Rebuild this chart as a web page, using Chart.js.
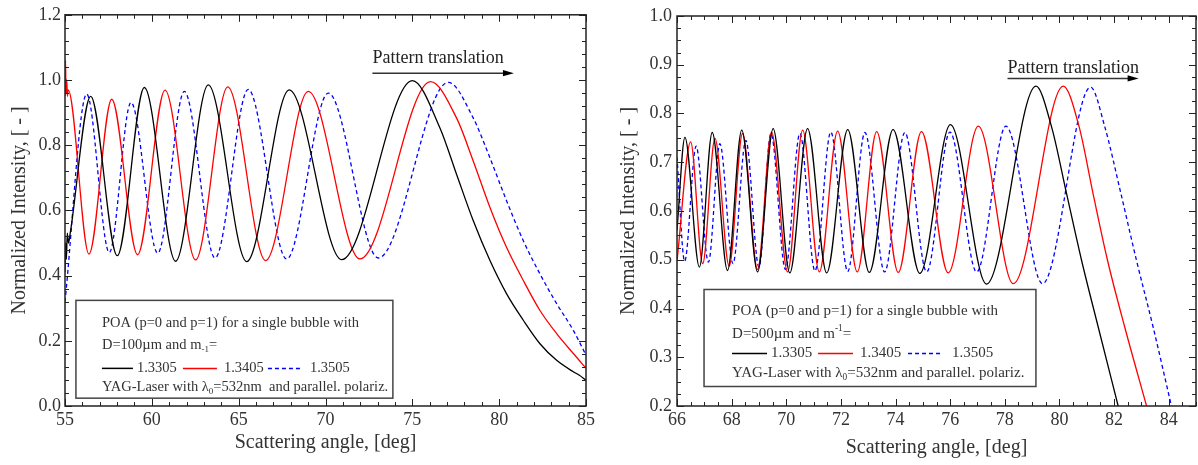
<!DOCTYPE html>
<html>
<head>
<meta charset="utf-8">
<script src="https://cdn.jsdelivr.net/npm/chart.js@4.4.1/dist/chart.umd.min.js"></script>
<style>
  html, body { margin: 0; padding: 0; background: #fff; }
  #wrap { position: relative; width: 1198px; height: 465px; }
  canvas { position: absolute; top: 0; }
  #left { left: 0; }
  #right { left: 600px; }
</style>
</head>
<body>
<div id="wrap">
  <canvas id="left" width="600" height="465"></canvas>
  <canvas id="right" width="598" height="465"></canvas>
</div>
<script>
// series names (refractive index m^-1)
const seriesLabels = ["1.3305", "1.3405", "1.3505"];

// ---- left panel: D = 100 um ----
const leftXTicks = [55, 60, 65, 70, 75, 80, 85];
const leftYTicks = [0.0, 0.2, 0.4, 0.6, 0.8, 1.0, 1.2];

const leftBlackX = [55.0, 55.04, 55.08, 55.13, 55.2, 55.3, 56.48, 58.01, 59.57, 61.37, 63.25, 65.46, 67.91, 70.93, 75.0, 76.59, 77.55, 78.51, 79.47, 80.43, 81.39, 82.35, 83.31, 84.27, 84.6, 85.0];
const leftBlackY = [0.41, 0.50, 0.45, 0.53, 0.50, 0.53, 0.950, 0.461, 0.977, 0.444, 0.985, 0.443, 0.970, 0.449, 0.998, 0.853, 0.710, 0.568, 0.446, 0.344, 0.263, 0.191, 0.140, 0.105, 0.095, 0.079];

const leftRedX = [55.0, 55.03, 55.06, 55.1, 55.14, 55.18, 56.38, 57.69, 59.18, 60.76, 62.52, 64.37, 66.55, 69.01, 71.98, 76.05, 77.55, 78.51, 79.47, 80.43, 81.39, 82.35, 83.31, 84.27, 85.0];
const leftRedY = [0.95, 1.06, 0.96, 1.00, 0.95, 0.97, 0.466, 0.941, 0.464, 0.969, 0.448, 0.979, 0.446, 0.965, 0.451, 0.995, 0.883, 0.751, 0.609, 0.486, 0.385, 0.293, 0.222, 0.161, 0.116];

const leftBlueX = [55.0, 56.25, 57.55, 58.80, 60.34, 61.87, 63.64, 65.55, 67.76, 70.16, 73.04, 77.07, 78.51, 79.47, 80.43, 81.39, 82.35, 83.31, 84.27, 85.0];
const leftBlueY = [0.32, 0.957, 0.471, 0.931, 0.469, 0.965, 0.454, 0.971, 0.451, 0.960, 0.454, 0.993, 0.883, 0.761, 0.629, 0.507, 0.405, 0.314, 0.232, 0.156];

// ---- right panel: D = 500 um ----
const rightXTicks = [66, 68, 70, 72, 74, 76, 78, 80, 82, 84];
const rightYTicks = [0.2, 0.3, 0.4, 0.5, 0.6, 0.7, 0.8, 0.9, 1.0];

const rightBlackX = [66.0, 66.29, 66.82, 67.29, 67.85, 68.37, 68.95, 69.52, 70.13, 70.78, 71.48, 72.25, 73.04, 73.91, 74.89, 76.01, 77.33, 79.14, 79.71, 80.26, 80.81, 81.42, 82.15];
const rightBlackY = [0.56, 0.751, 0.485, 0.761, 0.478, 0.766, 0.475, 0.769, 0.473, 0.769, 0.473, 0.767, 0.474, 0.767, 0.472, 0.777, 0.450, 0.856, 0.773, 0.636, 0.499, 0.362, 0.200];

const rightRedX = [66.0, 66.50, 66.94, 67.39, 67.91, 68.40, 68.95, 69.46, 70.05, 70.60, 71.21, 71.88, 72.60, 73.31, 74.10, 74.95, 75.93, 77.03, 78.31, 80.14, 80.72, 81.23, 81.76, 82.39, 83.19];
const rightRedY = [0.497, 0.742, 0.492, 0.749, 0.487, 0.759, 0.480, 0.762, 0.475, 0.766, 0.475, 0.764, 0.475, 0.763, 0.474, 0.763, 0.473, 0.774, 0.451, 0.856, 0.773, 0.636, 0.499, 0.362, 0.200];

const rightBlueX = [66.0, 66.28, 66.70, 67.15, 67.57, 68.05, 68.52, 69.0, 69.44, 69.97, 70.50, 71.05, 71.63, 72.25, 72.88, 73.60, 74.34, 75.14, 75.99, 76.97, 78.04, 79.38, 81.14, 81.66, 82.25, 82.82, 83.43, 84.10];
const rightBlueY = [0.71, 0.497, 0.733, 0.495, 0.738, 0.492, 0.745, 0.485, 0.759, 0.480, 0.759, 0.477, 0.762, 0.476, 0.761, 0.475, 0.761, 0.475, 0.762, 0.475, 0.774, 0.451, 0.854, 0.773, 0.636, 0.499, 0.362, 0.200];

const serif = "'Liberation Serif', 'DejaVu Serif', serif";
const textColor = "#333";
const colors = ["#000000", "#ff0000", "#0000ff"];
const dashes = [[], [], [4, 3]];

function pts(xs, ys) {
  return xs.map((x, i) => ({ x: x, y: ys[i] }));
}

// draw text with sub/superscript parts: [[text, "sub"|"sup"|undefined], ...]
function richText(ctx, parts, x, y, size) {
  let cx = x;
  parts.forEach(([t, k]) => {
    const s = k ? size * 0.62 : size;
    ctx.font = s + "px " + serif;
    const dy = k === "sub" ? size * 0.3 : k === "sup" ? -size * 0.4 : 0;
    ctx.fillText(t, cx, y + dy);
    cx += ctx.measureText(t).width;
  });
}

// frame, inward ticks on all sides, legend box and arrow note
const decor = {
  id: "decor",
  afterDatasetsDraw(chart, args, o) {
    const { ctx, chartArea: a, scales: { x, y } } = chart;
    ctx.save();
    ctx.strokeStyle = "#222";
    ctx.lineWidth = 1.5;
    ctx.strokeRect(a.left, a.top, a.width, a.height);

    ctx.lineWidth = 1;
    ctx.beginPath();
    const nx = Math.round((x.max - x.min) / o.xMinor);
    for (let i = 0; i <= nx; i++) {
      const v = x.min + i * o.xMinor;
      const len = o.xMajor.some(m => Math.abs(m - v) < 1e-6) ? 7 : 4;
      const p = Math.round(x.getPixelForValue(v)) + 0.5;
      ctx.moveTo(p, a.bottom); ctx.lineTo(p, a.bottom - len);
      ctx.moveTo(p, a.top); ctx.lineTo(p, a.top + len);
    }
    const ny = Math.round((y.max - y.min) / o.yMinor);
    for (let i = 0; i <= ny; i++) {
      const v = y.min + i * o.yMinor;
      const len = o.yMajor.some(m => Math.abs(m - v) < 1e-6) ? 7 : 4;
      const p = Math.round(y.getPixelForValue(v)) + 0.5;
      ctx.moveTo(a.left, p); ctx.lineTo(a.left + len, p);
      ctx.moveTo(a.right, p); ctx.lineTo(a.right - len, p);
    }
    ctx.stroke();

    // legend box
    const L = o.legend;
    const bx0 = x.getPixelForValue(L.x0), bx1 = x.getPixelForValue(L.x1);
    const by0 = y.getPixelForValue(L.y0), by1 = y.getPixelForValue(L.y1);
    ctx.fillStyle = "#fff";
    ctx.fillRect(bx0, by0, bx1 - bx0, by1 - by0);
    ctx.strokeStyle = "#444";
    ctx.lineWidth = 1.5;
    ctx.strokeRect(bx0, by0, bx1 - bx0, by1 - by0);
    ctx.fillStyle = textColor;
    ctx.textBaseline = "middle";
    ctx.textAlign = "left";
    L.lines.forEach((parts, i) => {
      richText(ctx, parts, bx0 + L.textX, by0 + L.rows[i], L.size);
    });
    const rowY = by0 + L.sampleRow;
    L.samples.forEach(([s0, s1, tx], i) => {
      ctx.strokeStyle = colors[i];
      ctx.lineWidth = 1.5;
      ctx.setLineDash(dashes[i]);
      ctx.beginPath();
      ctx.moveTo(bx0 + s0, rowY); ctx.lineTo(bx0 + s1, rowY);
      ctx.stroke();
      ctx.setLineDash([]);
      ctx.fillStyle = textColor;
      ctx.font = L.size + "px " + serif;
      ctx.fillText(seriesLabels[i], bx0 + tx, rowY);
    });

    // "Pattern translation" arrow
    const N = o.note;
    const ax0 = x.getPixelForValue(N.x0), ax1 = x.getPixelForValue(N.x1);
    const ay = y.getPixelForValue(N.yArrow);
    ctx.fillStyle = "#222";
    ctx.font = "18px " + serif;
    ctx.textBaseline = "alphabetic";
    ctx.fillText("Pattern translation", ax0, y.getPixelForValue(N.yText));
    ctx.strokeStyle = "#333";
    ctx.lineWidth = 1.5;
    ctx.beginPath();
    ctx.moveTo(ax0, ay); ctx.lineTo(ax1 - 8, ay);
    ctx.stroke();
    ctx.fillStyle = "#000";
    ctx.beginPath();
    ctx.moveTo(ax1, ay); ctx.lineTo(ax1 - 11, ay - 3.2); ctx.lineTo(ax1 - 11, ay + 3.2);
    ctx.closePath();
    ctx.fill();
    ctx.restore();
  }
};

function makeChart(id, c) {
  const datasets = c.series.map((s, i) => ({
    label: seriesLabels[i],
    data: pts(s[0], s[1]),
    borderColor: colors[i],
    borderDash: dashes[i],
    borderWidth: 1.3,
    pointRadius: 0,
    fill: false,
    cubicInterpolationMode: "monotone"
  }));
  return new Chart(document.getElementById(id), {
    type: "line",
    data: { datasets: datasets },
    plugins: [decor],
    options: {
      responsive: false,
      animation: false,
      layout: { padding: { top: c.padTop, right: c.padRight, left: 0, bottom: 0 } },
      plugins: {
        legend: { display: false },
        tooltip: { enabled: false },
        decor: c.decor
      },
      scales: {
        x: {
          type: "linear",
          min: c.xMin,
          max: c.xMax,
          grid: { display: false, drawTicks: false },
          border: { display: false },
          afterBuildTicks: s => { s.ticks = c.xTicks.map(v => ({ value: v })); },
          afterFit: s => { s.height = c.xHeight; },
          ticks: { padding: 3, color: textColor, font: { family: serif, size: 18 }, callback: v => String(v) },
          title: {
            display: true, text: "Scattering angle, [deg]", color: textColor,
            font: { family: serif, size: 20 }, padding: { top: 0, bottom: c.xTitlePad }
          }
        },
        y: {
          min: c.yMin,
          max: c.yMax,
          grid: { display: false, drawTicks: false },
          border: { display: false },
          afterBuildTicks: s => { s.ticks = c.yTicks.map(v => ({ value: v })); },
          afterFit: s => { s.width = c.yWidth; },
          ticks: { padding: c.yTickPad, color: textColor, font: { family: serif, size: 18 }, callback: v => v.toFixed(1) },
          title: {
            display: true, text: "Normalized Intensity, [ - ]", color: textColor,
            font: { family: serif, size: 20 }, padding: { top: c.yTitlePad, bottom: 0 }
          }
        }
      }
    }
  });
}

makeChart("left", {
  series: [[leftBlackX, leftBlackY], [leftRedX, leftRedY], [leftBlueX, leftBlueY]],
  xMin: 55, xMax: 85, yMin: 0, yMax: 1.2,
  xTicks: leftXTicks, yTicks: leftYTicks,
  padTop: 13, padRight: 14, xHeight: 59, yWidth: 65,
  xTitlePad: 10, yTitlePad: 8, yTickPad: 4,
  decor: {
    xMinor: 1, yMinor: 0.04, xMajor: leftXTicks, yMajor: leftYTicks,
    legend: {
      x0: 55.63, x1: 73.88, y0: 0.324, y1: 0.024, size: 14.5, textX: 26,
      rows: [23, 45, 0, 87], sampleRow: 68,
      samples: [[26, 57, 61], [107, 141, 148], [192, 226, 234]],
      lines: [
        [["POA (p=0 and p=1) for a single bubble with"]],
        [["D=100\u00b5m and m"], ["-1", "sub"], ["="]],
        [],
        [["YAG-Laser with \u03bb"], ["0", "sub"], ["=532nm  and parallel. polariz."]]
      ]
    },
    note: { x0: 72.7, x1: 80.85, yArrow: 1.021, yText: 1.051 }
  }
});

makeChart("right", {
  series: [[rightBlackX, rightBlackY], [rightRedX, rightRedY], [rightBlueX, rightBlueY]],
  xMin: 66, xMax: 85, yMin: 0.2, yMax: 1.0,
  xTicks: rightXTicks, yTicks: rightYTicks,
  padTop: 16, padRight: 2, xHeight: 59, yWidth: 77,
  xTitlePad: 5, yTitlePad: 17, yTickPad: 5,
  decor: {
    xMinor: 0.5, yMinor: 0.025, xMajor: rightXTicks, yMajor: rightYTicks,
    legend: {
      x0: 66.99, x1: 79.14, y0: 0.439, y1: 0.240, size: 15, textX: 28,
      rows: [22, 45, 0, 84], sampleRow: 64,
      samples: [[28, 63, 67], [114, 149, 156], [204, 238, 248]],
      lines: [
        [["POA (p=0 and p=1) for a single bubble with"]],
        [["D=500\u00b5m and m"], ["-1", "sup"], ["="]],
        [],
        [["YAG-Laser with \u03bb"], ["0", "sub"], ["=532nm and parallel. polariz."]]
      ]
    },
    note: { x0: 78.1, x1: 82.9, yArrow: 0.872, yText: 0.883 }
  }
});
</script>
</body>
</html>
